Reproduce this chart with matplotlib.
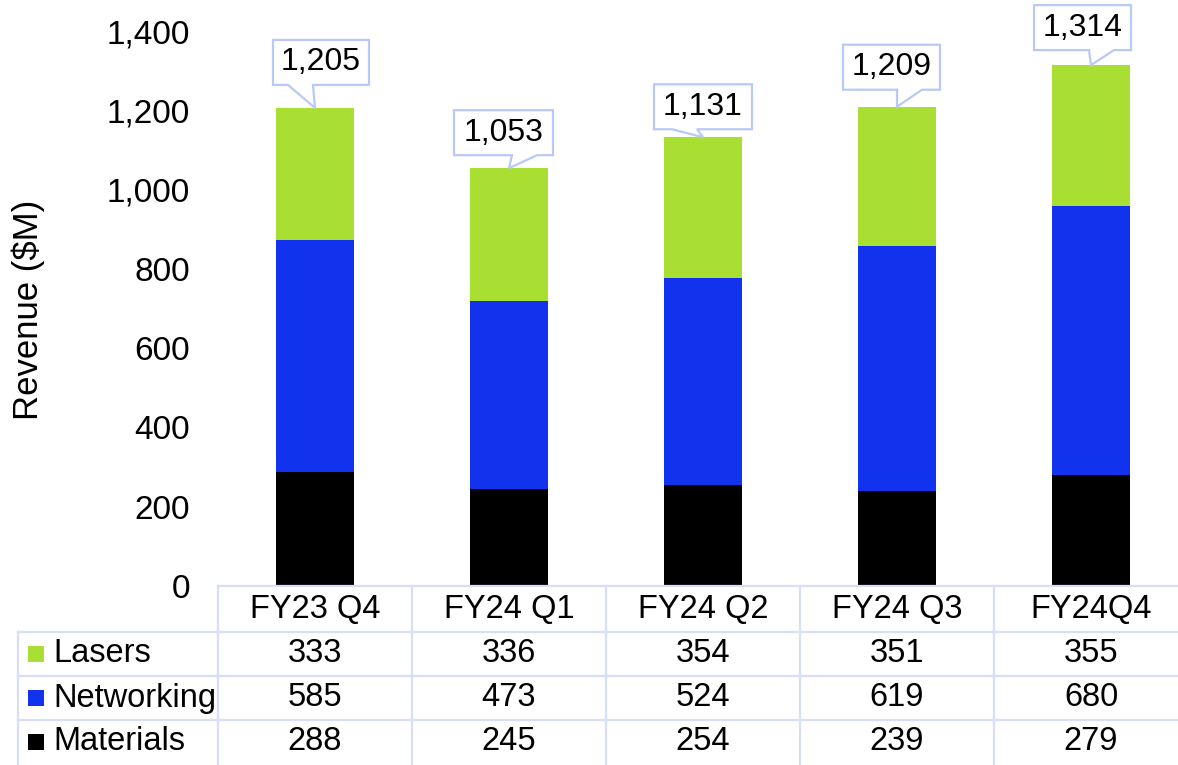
import matplotlib.pyplot as plt
import matplotlib.transforms as mtransforms
from matplotlib.patches import Polygon, Rectangle
from matplotlib.lines import Line2D

plt.rcParams['font.family'] = ['Liberation Sans', 'DejaVu Sans']

# data
quarters = ['FY23 Q4', 'FY24 Q1', 'FY24 Q2', 'FY24 Q3', 'FY24Q4']
lasers = [333, 336, 354, 351, 355]
networking = [585, 473, 524, 619, 680]
materials = [288, 245, 254, 239, 279]
totals = [1205, 1053, 1131, 1209, 1314]
series_names = ['Lasers', 'Networking', 'Materials']
yticks = [0, 200, 400, 600, 800, 1000, 1200, 1400]

green = '#A9DE33'
blue = '#1133EE'
black = '#000000'
grid_col = '#D9DEF8'
callout_col = '#B9C9F7'

# callout layout in pixels: box left, box right, gap above bar, tail x0, tail x1
callout_geo = [(-42, 54, 23, -27, -2),
               (-55, 44, 13, 3, 28),
               (-49, 49, 8, -31, -6),
               (-54, 43, 17, 0, 25),
               (-57, 40, 15, -2, 23)]

W, H = 1178, 765
fig = plt.figure(figsize=(W / 100, H / 100), dpi=100)
ax = fig.add_axes([218 / W, (H - 586) / H, 970 / W, 555 / H])

x = list(range(len(quarters)))
mat_net = [m + n for m, n in zip(materials, networking)]
ax.bar(x, materials, 0.4, color=black, zorder=2)
ax.bar(x, networking, 0.4, bottom=materials, color=blue, zorder=2)
ax.bar(x, lasers, 0.4, bottom=mat_net, color=green, zorder=2)

ax.set_xlim(-0.5, 4.5)
ax.set_ylim(0, 1400)
ax.set_yticks(yticks)
ax.set_yticklabels([f'{v:,}' for v in yticks], fontsize=24)
ax.tick_params(axis='y', length=0, pad=20)
ax.set_xticks([])
for s in ax.spines.values():
    s.set_visible(False)

fig.text(28 / W, 1 - 310 / H, 'Revenue ($M)', rotation=90, ha='center',
         va='center', fontsize=25)

# callouts with totals
ident = mtransforms.IdentityTransform()
stack_top = [mn + l for mn, l in zip(mat_net, lasers)]
for i, (tot, top) in enumerate(zip(totals, stack_top)):
    l, r, gap, a, b = callout_geo[i]
    tx, ty = ax.transData.transform((i, top))
    B = ty + gap
    T = B + 45
    pts = [(tx + l, B), (tx + a, B), (tx, ty), (tx + b, B), (tx + r, B),
           (tx + r, T), (tx + l, T)]
    poly = Polygon(pts, closed=True, facecolor='white', edgecolor=callout_col,
                   lw=1.6, transform=ident, clip_on=False, zorder=5)
    fig.add_artist(poly)
    fig.text((tx + (l + r) / 2) / W, (B + T) / 2 / H, f'{tot:,}', ha='center',
             va='center', fontsize=23, zorder=6)

# data table
def fy(py):
    return 1 - py / H

def hline(x0, x1, py):
    fig.add_artist(Line2D([x0 / W, x1 / W], [fy(py), fy(py)], color=grid_col,
                          lw=1.6, transform=fig.transFigure))

def vline(px, y0, y1):
    fig.add_artist(Line2D([px / W, px / W], [fy(y0), fy(y1)], color=grid_col,
                          lw=1.6, transform=fig.transFigure))

hline(218, W, 586)
for py in [632, 676, 720]:
    hline(18, W, py)
vline(18, 632, H)
for i in range(len(quarters)):
    vline(218 + 194 * i, 586, H)

blend = mtransforms.blended_transform_factory(ax.transData, fig.transFigure)
for i, q in enumerate(quarters):
    ax.text(i, fy(609), q, transform=blend, ha='center', va='center',
            fontsize=23.5, clip_on=False)

rows = [lasers, networking, materials]
row_cols = [green, blue, black]
row_y = [654, 698, 742]
for name, vals, col, py in zip(series_names, rows, row_cols, row_y):
    fig.add_artist(Rectangle((28 / W, fy(py + 8)), 16 / W, 16 / H,
                             facecolor=col, edgecolor='none',
                             transform=fig.transFigure))
    fig.text(53 / W, fy(py), name, ha='left', va='center', fontsize=23.5)
    for i, v in enumerate(vals):
        ax.text(i, fy(py), str(v), transform=blend, ha='center', va='center',
                fontsize=23.5, clip_on=False)

fig.savefig('out.png', dpi=100)
